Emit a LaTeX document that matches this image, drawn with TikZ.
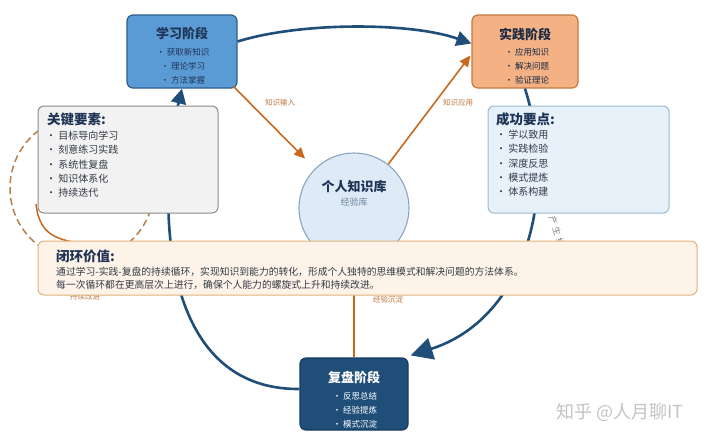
\documentclass[tikz,border=0pt]{standalone}
\usepackage{fontspec}
\setmainfont{Noto Sans CJK SC}
\usetikzlibrary{arrows.meta,calc}
\definecolor{cyc}{HTML}{1F4E79}
\definecolor{learnfill}{HTML}{5B9BD5}
\definecolor{learnline}{HTML}{2E5F8E}
\definecolor{pracfill}{HTML}{F4B183}
\definecolor{pracline}{HTML}{C47A40}
\definecolor{revfill}{HTML}{1F4E79}
\definecolor{revline}{HTML}{163B5E}
\definecolor{kbfill}{HTML}{DEEBF7}
\definecolor{kbline}{HTML}{8AA6C1}
\definecolor{keyfill}{HTML}{F2F2F2}
\definecolor{keyline}{HTML}{8C8C8C}
\definecolor{sucfill}{HTML}{E6F1FA}
\definecolor{sucline}{HTML}{9DB9D4}
\definecolor{clofill}{HTML}{FDF3E8}
\definecolor{cloline}{HTML}{E0B37E}
\definecolor{org}{HTML}{C8691E}
\definecolor{orgtext}{HTML}{C0773F}
\definecolor{dashc}{HTML}{B8814A}
\definecolor{navy}{HTML}{1F3556}
\definecolor{bodytext}{HTML}{333A45}
\definecolor{wm}{HTML}{C4C4C4}
\begin{document}
\begin{tikzpicture}[x=1pt,y=-1pt,
  box/.style={draw, rounded corners=6pt, line width=1.2pt, inner sep=0pt},
  cycline/.style={draw=cyc, line width=2.6pt},
  cyctip/.style={-{Triangle[length=15pt,width=15pt]}},
  orgline/.style={draw=org, line width=1.6pt, -{Triangle[length=11pt,width=10pt]}},
  ttl/.style={font=\fontsize{13}{15}\selectfont\bfseries, inner sep=0pt},
  itm/.style={align=center, font=\fontsize{8.5}{14}\selectfont, inner sep=0pt},
  lst/.style={align=left, font=\fontsize{10}{14.2}\selectfont, inner sep=0pt, anchor=north west, text=bodytext},
  lbl/.style={font=\fontsize{7.5}{9}\selectfont, text=orgtext, inner sep=1pt},
  rotch/.style={font=\fontsize{8.5}{10}\selectfont, text=gray, rotate=-70, inner sep=0pt}]
\useasboundingbox (0,0) rectangle (720,440);
\fill[white] (0,0) rectangle (720,440);

% stage boxes (shapes first so connectors can use their anchors)
\node[box, fill=learnfill, draw=learnline, minimum width=110pt, minimum height=73pt] (learn) at (182,51.5) {};
\node[box, fill=pracfill, draw=pracline, minimum width=106pt, minimum height=73pt] (prac) at (525,51.5) {};
\node[box, fill=revfill, draw=revline, minimum width=108pt, minimum height=72pt] (rev) at (354,394) {};
\node[circle, draw=kbline, fill=kbfill, line width=1.1pt, minimum size=110pt, inner sep=0pt] (kb) at (354,208) {};

% dashed loop and its solid return (behind boxes)
\draw[dashc, line width=1.5pt, dash pattern=on 7pt off 4pt] (82,188) circle (72);
\draw[org, line width=1.5pt] (36,204) .. controls (40,240) and (62,240) .. (95,246);

% main cycle connectors
\draw[cycline, cyctip] ($(learn.east)+(0,-10)$) .. controls (300,22) and (410,22) .. ($(prac.west)+(0,-8)$);
\draw[cycline, -{Triangle[length=22pt,width=22pt]}] (prac.south) .. controls (560,200) and (522,320) .. ($(rev.north east)+(2,-2)$);
\draw[cycline, cyctip] ($(rev.west)+(0,-5)$) .. controls (150,390) and (160,180) .. (learn.south);
\node[rotch] (lr1) at (553,220) {产};
\node[rotch] (lr2) at (557,231) {生};
\node[rotch] (lr3) at (561,242) {经};
\node[rotch] (lr4) at (565,253) {验};

% knowledge flows
\draw[orgline, shorten >=14pt] ($(learn.south east)+(-4,-2)$) -- (kb);
\draw[orgline] (kb.52) -- ($(prac.west)+(-1,4)$);
\draw[org, line width=1.6pt, -{Triangle[length=11pt,width=10pt]}] (rev.north) -- (kb.south);
\node[lbl] (l1) at (280,103) {知识输入};
\node[lbl] (l2) at (458,103) {知识应用};
\node[lbl] (l3) at (388,300) {经验沉淀};
\node[lbl] (l4) at (85,297) {持续改进};

% info boxes
\node[box, fill=keyfill, draw=keyline, line width=1pt, minimum width=180pt, minimum height=107pt] (key) at (128,159.5) {};
\node[box, fill=sucfill, draw=sucline, line width=1pt, minimum width=181pt, minimum height=107pt] (suc) at (578.5,159.5) {};
\node[box, fill=clofill, draw=cloline, line width=1pt, minimum width=659pt, minimum height=54pt] (clo) at (367.5,268) {};

% texts
\node[ttl, text=navy] (learnT) at (182,33) {学习阶段};
\node[itm, text=navy] (learnI) at (183,66.5) {• 获取新知识\\• 理论学习\\• 方法掌握};
\node[ttl, text=navy!80!black] (pracT) at (525,34) {实践阶段};
\node[itm, text=navy!80!black] (pracI) at (527,66) {• 应用知识\\• 解决问题\\• 验证理论};
\node[ttl, text=white] (revT) at (354,377) {复盘阶段};
\node[itm, text=white] (revI) at (355,410) {• 反思总结\\• 经验提炼\\• 模式沉淀};
\node[font=\fontsize{13}{15}\selectfont\bfseries, text=navy, inner sep=0pt] (kbT) at (354,187) {个人知识库};
\node[font=\fontsize{9}{11}\selectfont, text=kbline!80!black, inner sep=0pt] (kbS) at (354,202) {经验库};

\node[ttl, text=navy, anchor=west, font=\fontsize{13.5}{15}\selectfont\bfseries] (keyT) at (47,119) {关键要素:};
\node[lst] (keyL) at (46,131) {• 目标导向学习\\• 刻意练习实践\\• 系统性复盘\\• 知识体系化\\• 持续迭代};
\node[ttl, text=navy, anchor=west, font=\fontsize{13.5}{15}\selectfont\bfseries] (sucT) at (496,119) {成功要点:};
\node[lst] (sucL) at (496,130) {• 学以致用\\• 实践检验\\• 深度反思\\• 模式提炼\\• 体系构建};

\node[ttl, text=navy, anchor=west, font=\fontsize{13.5}{15}\selectfont\bfseries] (cloT) at (56,256) {闭环价值:};
\node[anchor=west, inner sep=0pt, font=\fontsize{9.8}{12}\selectfont, text=bodytext] (cloA) at (56,272) {通过学习-实践-复盘的持续循环，实现知识到能力的转化，形成个人独特的思维模式和解决问题的方法体系。};
\node[anchor=west, inner sep=0pt, font=\fontsize{9.8}{12}\selectfont, text=bodytext] (cloB) at (56,285) {每一次循环都在更高层次上进行，确保个人能力的螺旋式上升和持续改进。};

\node[font=\fontsize{18}{20}\selectfont, text=wm, inner sep=0pt] (wmark) at (620,412) {知乎 @人月聊IT};
\end{tikzpicture}
\end{document}
